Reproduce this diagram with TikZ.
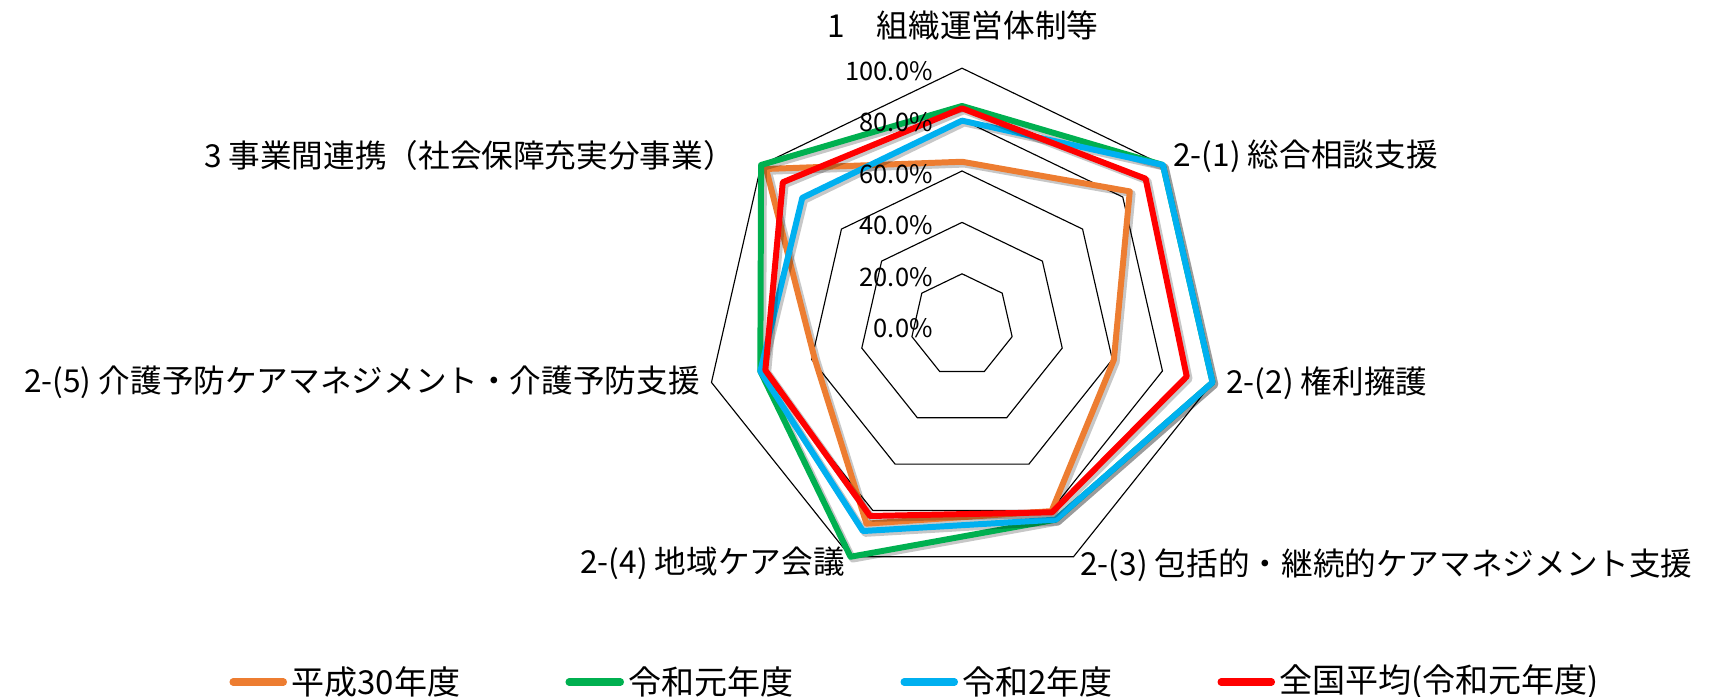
\documentclass[tikz,border=0pt]{standalone}
\usepackage{fontspec}
\setmainfont{Noto Sans CJK JP}

\definecolor{hThirty}{HTML}{ED7D31}
\definecolor{rOne}{HTML}{00B050}
\definecolor{rTwo}{HTML}{00B0F0}
\definecolor{natAvg}{HTML}{FF0000}

\tikzset{
    gridline/.style={black, line width=0.65pt},
    seriesline/.style={line width=3.4pt, line join=round},
    shadowline/.style={line width=4pt, line join=round, black, opacity=0.22,
        transform canvas={shift={(1.3pt,-1.3pt)}}},
    axislabel/.style={font=\fontsize{18}{20}\selectfont, inner sep=0pt},
    pctlabel/.style={font=\fontsize{14.5}{16}\selectfont, inner sep=0pt, anchor=east},
    legendtext/.style={font=\fontsize{18.8}{21}\selectfont, inner sep=0pt, anchor=west},
    legendline/.style={line width=4pt, line cap=round, shorten >=0.15cm},
}

\begin{document}
\begin{tikzpicture}[x=0.02cm, y=-0.02cm]
    \useasboundingbox (0,0) rectangle (1709,696);
    \def\cx{962}
    \def\cy{325.2}
    \def\unit{2.57} % px for one percent

    \begin{scope}[shift={(\cx,\cy)}, y=0.02cm]
        % Draw the heptagon grid
        \foreach \p in {20,40,60,80,100}
            \draw[gridline] (90:{\p*\unit}) \foreach \k in {1,...,6} { -- ({90-\k*360/7}:{\p*\unit}) } -- cycle;

        % Vertices of the four series
        \foreach \v [count=\i from 0] in {63.6,83.5,60.6,80.3,85.7,58.8,97.5}
            \coordinate (ht\i) at ({90-\i*360/7}:{\v*\unit});
        \foreach \v [count=\i from 0] in {85.3,100,100,84,100,80.5,100}
            \coordinate (ra\i) at ({90-\i*360/7}:{\v*\unit});
        \foreach \v [count=\i from 0] in {79.6,100,100,84,88.9,80.5,79.5}
            \coordinate (rb\i) at ({90-\i*360/7}:{\v*\unit});
        \foreach \v [count=\i from 0] in {84.4,91.4,89.7,80.8,82.4,78.5,89.2}
            \coordinate (av\i) at ({90-\i*360/7}:{\v*\unit});

        % Draw the series, each with its shadow
        \draw[shadowline] (ht0) -- (ht1) -- (ht2) -- (ht3) -- (ht4) -- (ht5) -- (ht6) -- cycle;
        \draw[seriesline, hThirty] (ht0) -- (ht1) -- (ht2) -- (ht3) -- (ht4) -- (ht5) -- (ht6) -- cycle;
        \draw[shadowline] (ra0) -- (ra1) -- (ra2) -- (ra3) -- (ra4) -- (ra5) -- (ra6) -- cycle;
        \draw[seriesline, rOne] (ra0) -- (ra1) -- (ra2) -- (ra3) -- (ra4) -- (ra5) -- (ra6) -- cycle;
        \draw[shadowline] (rb0) -- (rb1) -- (rb2) -- (rb3) -- (rb4) -- (rb5) -- (rb6) -- cycle;
        \draw[seriesline, rTwo] (rb0) -- (rb1) -- (rb2) -- (rb3) -- (rb4) -- (rb5) -- (rb6) -- cycle;
        \draw[shadowline] (av0) -- (av1) -- (av2) -- (av3) -- (av4) -- (av5) -- (av6) -- cycle;
        \draw[seriesline, natAvg] (av0) -- (av1) -- (av2) -- (av3) -- (av4) -- (av5) -- (av6) -- cycle;
    \end{scope}

    % Percent scale
    \foreach \p in {0,20,40,60,80,100}
        \node[pctlabel] (pct\p) at (933, {\cy-\p*\unit+3}) {\p.0\%};

    % Axis labels
    \node[axislabel] (lbl0) at (963, 26) {1　組織運営体制等};
    \node[axislabel, anchor=west] (lbl1) at (1173, 156) {2-(1) 総合相談支援};
    \node[axislabel, anchor=west] (lbl2) at (1226, 383) {2-(2) 権利擁護};
    \node[axislabel, anchor=west] (lbl3) at (1080, 565) {2-(3) 包括的・継続的ケアマネジメント支援};
    \node[axislabel, anchor=east] (lbl4) at (845, 563) {2-(4) 地域ケア会議};
    \node[axislabel, anchor=east] (lbl5) at (700, 382) {2-(5) 介護予防ケアマネジメント・介護予防支援};
    \node[axislabel, anchor=east] (lbl6) at (735, 155) {3 事業間連携（社会保障充実分事業）};

    % Legend
    \node[legendtext] (lg30) at (291, 682) {平成30年度};
    \node[legendtext] (lgR1) at (628, 682) {令和元年度};
    \node[legendtext] (lgR2) at (962, 682) {令和2年度};
    \node[legendtext] (lgAv) at (1279, 682) {全国平均(令和元年度)};
    \coordinate (k30) at (233, 682);
    \coordinate (kR1) at (569, 682);
    \coordinate (kR2) at (904, 682);
    \coordinate (kAv) at (1221, 682);
    \draw[legendline, hThirty] (k30) -- (lg30.west);
    \draw[legendline, rOne] (kR1) -- (lgR1.west);
    \draw[legendline, rTwo] (kR2) -- (lgR2.west);
    \draw[legendline, natAvg] (kAv) -- (lgAv.west);
\end{tikzpicture}
\end{document}
